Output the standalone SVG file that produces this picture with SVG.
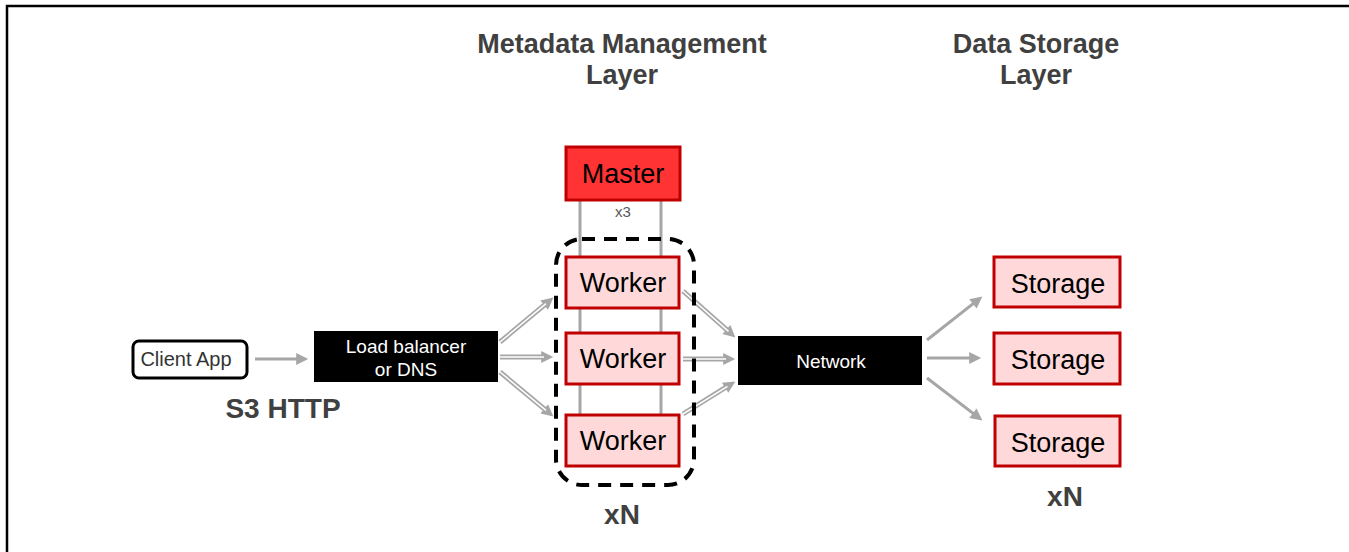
<svg xmlns="http://www.w3.org/2000/svg" width="1349" height="552" viewBox="0 0 1349 552">
<style>
.hdr{font-family:"Liberation Sans",Arial,sans-serif;font-weight:bold;font-size:27px;fill:#404040;text-anchor:middle}
.lbl{font-family:"Liberation Sans",Arial,sans-serif;font-size:27px;fill:#000;text-anchor:middle}
.wt{font-family:"Liberation Sans",Arial,sans-serif;font-size:19px;fill:#fff;text-anchor:middle}
.red{fill:#ffd9d9;stroke:#c00000;stroke-width:3}
.gl{stroke:#a6a6a6;stroke-width:3;fill:none}
.dbl{stroke:#a6a6a6;stroke-width:5;fill:none}
.inn{stroke:#fff;stroke-width:1.5;fill:none}
</style>
<defs>
<marker id="ah" viewBox="0 0 10 10" refX="4" refY="5" markerWidth="14" markerHeight="12" markerUnits="userSpaceOnUse" orient="auto">
<path d="M0,0 L10,5 L0,10 z" fill="#a6a6a6"/>
</marker>
</defs>
<rect width="1349" height="552" fill="#fff"/>
<path d="M7,552 V6 H1349" fill="none" stroke="#000" stroke-width="2.5"/>

<text class="hdr" x="622" y="53">Metadata Management</text>
<text class="hdr" x="622" y="84">Layer</text>
<text class="hdr" x="1036" y="53">Data Storage</text>
<text class="hdr" x="1036" y="84">Layer</text>

<g id="connectors">
<line class="gl" x1="580" y1="200" x2="580" y2="416"/>
<line class="gl" x1="661" y1="200" x2="661" y2="416"/>
<line class="gl" x1="255" y1="359" x2="301" y2="359" marker-end="url(#ah)"/>
<line class="dbl" x1="500" y1="342" x2="547.9" y2="302.1" marker-end="url(#ah)"/>
<line class="inn" x1="500" y1="342" x2="546" y2="303.6"/>
<line class="dbl" x1="500" y1="357" x2="546" y2="357" marker-end="url(#ah)"/>
<line class="inn" x1="500" y1="357" x2="544" y2="357"/>
<line class="dbl" x1="500" y1="372" x2="547.9" y2="411.9" marker-end="url(#ah)"/>
<line class="inn" x1="500" y1="372" x2="546" y2="410.4"/>
<line class="dbl" x1="683" y1="291" x2="730" y2="332.7" marker-end="url(#ah)"/>
<line class="inn" x1="683" y1="291" x2="728.5" y2="331.4"/>
<line class="dbl" x1="683" y1="359" x2="728" y2="359" marker-end="url(#ah)"/>
<line class="inn" x1="683" y1="359" x2="726" y2="359"/>
<line class="dbl" x1="683" y1="414" x2="729.2" y2="385.2" marker-end="url(#ah)"/>
<line class="inn" x1="683" y1="414" x2="727.5" y2="386.3"/>
<line class="gl" x1="927" y1="340" x2="976.7" y2="300.9" marker-end="url(#ah)"/>
<line class="gl" x1="927" y1="358" x2="974" y2="358" marker-end="url(#ah)"/>
<line class="gl" x1="927" y1="378" x2="976.7" y2="416.1" marker-end="url(#ah)"/>
</g>

<g id="client">
<rect x="133" y="341" width="114" height="37" rx="6" fill="#fff" stroke="#000" stroke-width="3"/>
<text x="186" y="366" font-family="Liberation Sans, Arial, sans-serif" font-size="20" fill="#333" text-anchor="middle">Client App</text>
</g>
<text class="hdr" x="283" y="418" style="font-size:28px">S3 HTTP</text>

<g id="loadbalancer">
<rect x="314" y="331" width="184" height="51" fill="#000"/>
<text class="wt" x="406" y="353">Load balancer</text>
<text class="wt" x="406" y="376">or DNS</text>
</g>

<g id="master">
<rect x="566" y="147" width="114" height="53" fill="#ff3333" stroke="#c00000" stroke-width="3"/>
<text class="lbl" x="623" y="183">Master</text>
</g>
<text x="623" y="217" font-family="Liberation Sans, Arial, sans-serif" font-size="15" fill="#595959" text-anchor="middle">x3</text>

<g id="cluster">
<rect x="556" y="239" width="138" height="246" rx="26" fill="none" stroke="#000" stroke-width="4" stroke-dasharray="13,9"/>
</g>

<g id="worker1">
<rect class="red" x="566" y="257" width="113" height="51"/>
<text class="lbl" x="623" y="292">Worker</text>
</g>
<g id="worker2">
<rect class="red" x="566" y="333" width="113" height="51"/>
<text class="lbl" x="623" y="368">Worker</text>
</g>
<g id="worker3">
<rect class="red" x="566" y="415" width="113" height="51"/>
<text class="lbl" x="623" y="450">Worker</text>
</g>
<text class="hdr" x="622" y="524" style="font-size:28px">xN</text>

<g id="network">
<rect x="738" y="336" width="184" height="49" fill="#000"/>
<text class="wt" x="831" y="368">Network</text>
</g>

<g id="storage1">
<rect class="red" x="994" y="257" width="126" height="50"/>
<text class="lbl" x="1058" y="293">Storage</text>
</g>
<g id="storage2">
<rect class="red" x="994" y="333" width="126" height="51"/>
<text class="lbl" x="1058" y="369">Storage</text>
</g>
<g id="storage3">
<rect class="red" x="995" y="416" width="125" height="50"/>
<text class="lbl" x="1058" y="452">Storage</text>
</g>
<text class="hdr" x="1065" y="506" style="font-size:28px">xN</text>
</svg>
